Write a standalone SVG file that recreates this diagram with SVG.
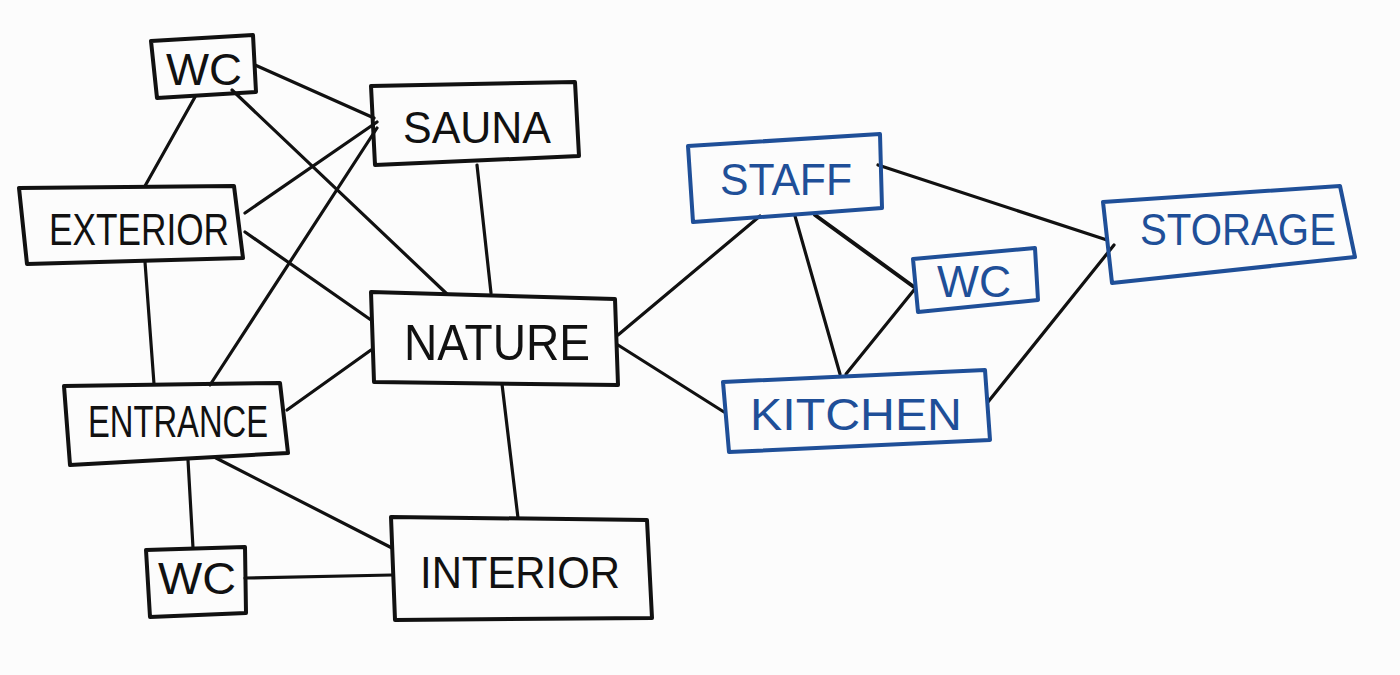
<svg xmlns="http://www.w3.org/2000/svg" width="1400" height="675" viewBox="0 0 1400 675">
<style>
.bg{fill:#fcfcfc}
.box{fill:none;stroke:#111;stroke-width:4;stroke-linejoin:round}
.bbox{fill:none;stroke:#1f4f98;stroke-width:4;stroke-linejoin:round}
.edge{fill:none;stroke:#111;stroke-width:3.2;stroke-linecap:round}
.t{font-family:"Liberation Sans","DejaVu Sans",sans-serif;font-size:44px;fill:#111;text-anchor:middle}
.bt{font-family:"Liberation Sans","DejaVu Sans",sans-serif;font-size:44px;fill:#1f4f98;text-anchor:middle}
</style>
<rect class="bg" x="0" y="0" width="1400" height="675"/>
<g id="connectors">
<line class="edge" x1="255" y1="65" x2="374" y2="118"/>
<line class="edge" x1="195" y1="97" x2="145" y2="186"/>
<line class="edge" x1="232" y1="90" x2="447" y2="294"/>
<line class="edge" x1="245" y1="213" x2="377" y2="122"/>
<line class="edge" x1="245" y1="232" x2="371" y2="320"/>
<line class="edge" x1="145" y1="262" x2="154" y2="384"/>
<line class="edge" x1="210" y1="385" x2="377" y2="128"/>
<line class="edge" x1="287" y1="410" x2="371" y2="350"/>
<line class="edge" x1="188" y1="460" x2="193" y2="548"/>
<line class="edge" x1="216" y1="458" x2="392" y2="548"/>
<line class="edge" x1="245" y1="578" x2="392" y2="575"/>
<line class="edge" x1="477" y1="165" x2="491" y2="293"/>
<line class="edge" x1="502" y1="384" x2="518" y2="518"/>
<line class="edge" x1="618" y1="335" x2="760" y2="216"/>
<line class="edge" x1="618" y1="345" x2="724" y2="412"/>
<line class="edge" x1="795" y1="216" x2="840" y2="374"/>
<line class="edge" x1="815" y1="215" x2="914" y2="287" style="stroke-width:4"/>
<line class="edge" x1="914" y1="290" x2="846" y2="374"/>
<line class="edge" x1="878" y1="165" x2="1107" y2="240"/>
<line class="edge" x1="988" y1="402" x2="1114" y2="245"/>
</g>
<g id="wc-top">
<polygon class="box" points="151,41 253,35 256,92 157,98"/>
<text class="t" x="204" y="85" textLength="76" lengthAdjust="spacingAndGlyphs">WC</text>
</g>
<g id="sauna">
<polygon class="box" points="371,86 575,82 579,156 375,165"/>
<text class="t" x="477" y="143" textLength="148" lengthAdjust="spacingAndGlyphs">SAUNA</text>
</g>
<g id="exterior">
<polygon class="box" points="19,188 234,186 243,258 27,264"/>
<text class="t" x="139" y="245" textLength="180" lengthAdjust="spacingAndGlyphs">EXTERIOR</text>
</g>
<g id="nature">
<polygon class="box" points="371,292 615,299 618,385 374,382"/>
<text class="t" x="497" y="360" style="font-size:50px" textLength="186" lengthAdjust="spacingAndGlyphs">NATURE</text>
</g>
<g id="entrance">
<polygon class="box" points="64,386 280,383 288,453 70,465"/>
<text class="t" x="178" y="437" textLength="180" lengthAdjust="spacingAndGlyphs">ENTRANCE</text>
</g>
<g id="wc-bottom">
<polygon class="box" points="146,550 245,547 246,613 150,617"/>
<text class="t" x="197" y="594" textLength="78" lengthAdjust="spacingAndGlyphs">WC</text>
</g>
<g id="interior">
<polygon class="box" points="391,517 647,520 652,618 395,620"/>
<text class="t" x="520" y="588" textLength="200" lengthAdjust="spacingAndGlyphs">INTERIOR</text>
</g>
<g id="staff">
<polygon class="bbox" points="688,146 880,134 882,208 693,222"/>
<text class="bt" x="786" y="195" textLength="132" lengthAdjust="spacingAndGlyphs">STAFF</text>
</g>
<g id="wc-right">
<polygon class="bbox" points="913,259 1035,248 1038,300 918,312"/>
<text class="bt" x="974" y="297" textLength="74" lengthAdjust="spacingAndGlyphs">WC</text>
</g>
<g id="storage">
<polygon class="bbox" points="1103,202 1340,186 1355,257 1112,283"/>
<text class="bt" x="1238" y="245" textLength="196" lengthAdjust="spacingAndGlyphs">STORAGE</text>
</g>
<g id="kitchen">
<polygon class="bbox" points="723,382 985,370 990,440 729,452"/>
<text class="bt" x="856" y="430" textLength="212" lengthAdjust="spacingAndGlyphs">KITCHEN</text>
</g>
</svg>
